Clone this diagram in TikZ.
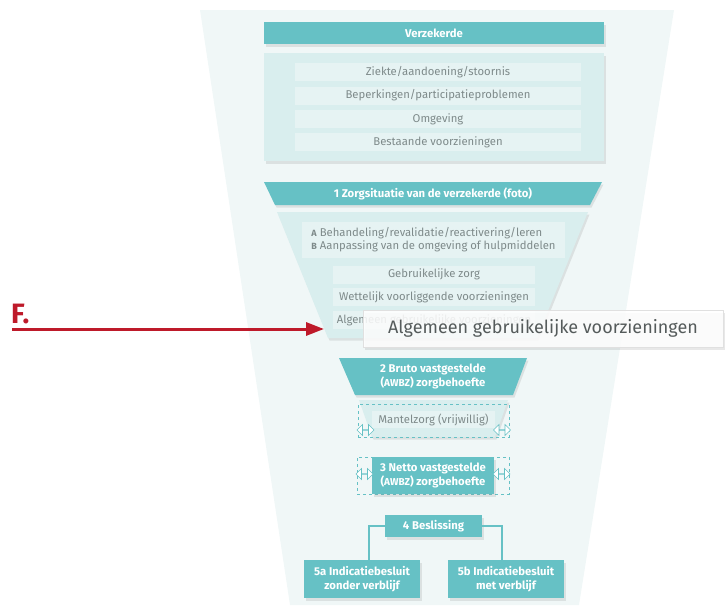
\documentclass[tikz,border=0pt]{standalone}
\usepackage{fontspec}
\setmainfont{Fira Sans}
\usetikzlibrary{shapes,arrows.meta,positioning,shadows}
\usepackage{xcolor}

\definecolor{tealc}{HTML}{66C1C5}
\definecolor{panelc}{HTML}{D9EEEE}
\definecolor{rowc}{HTML}{E6F3F3}
\definecolor{bgc}{HTML}{F0F7F7}
\definecolor{rowtext}{HTML}{7E8A8A}
\definecolor{redc}{HTML}{BE1A2A}
\definecolor{calltext}{HTML}{555B5B}

\begin{document}
\begin{tikzpicture}[x=1pt, y=-1pt,
    every node/.style={font=\fontsize{11.3}{13}\selectfont, inner sep=0pt},
    softshadow/.style={drop shadow={opacity=0.18, shadow xshift=1.5pt, shadow yshift=-2.5pt}},
    hdr/.style={rectangle, fill=tealc, text=white, align=center, font=\fontsize{11.3}{14}\selectfont\bfseries},
    row/.style={rectangle, fill=rowc, text=rowtext, minimum width=286pt, minimum height=18pt},
    subrow/.style={row, minimum width=202pt},
    lbl/.style={text=white, align=center, font=\fontsize{11.3}{14}\selectfont\bfseries},
    dashbox/.style={rectangle, draw=tealc, dashed, line width=0.5pt},
    dblarrow/.style={double arrow, draw=tealc, fill=white, line width=0.6pt, minimum width=11pt, minimum height=17pt, double arrow head extend=3.5pt},
    conn/.style={draw=tealc, line width=2pt},
    redarrow/.style={draw=redc, line width=3pt, -{Triangle[length=18pt, width=13pt]}}
]
\useasboundingbox (0,0) rectangle (725,605);

% background funnel
\fill[bgc] (200,10) -- (674,10) -- (579,605) -- (290,605) -- cycle;

% Verzekerde
\node[hdr, minimum width=340pt, minimum height=22pt, softshadow] (verz) at (434,33) {Verzekerde};
\node[rectangle, fill=panelc, minimum width=340pt, minimum height=108pt, softshadow] (panel) at (434,107) {};
\node[row] (r1) at (438,72) {Ziekte/aandoening/stoornis};
\node[row] (r2) at (438,95.5) {Beperkingen/participatieproblemen};
\node[row] (r3) at (438,119) {Omgeving};
\node[row] (r4) at (438,142) {Bestaande voorzieningen};

% 1 Zorgsituatie
\fill[tealc, softshadow] (264,182) -- (602,182) -- (590,205) -- (275,205) -- cycle;
\node[lbl] (zorg) at (433,193.5) {1 Zorgsituatie van de verzekerde (foto)};
\fill[panelc, softshadow] (277,212) -- (588,212) -- (537,338) -- (328,338) -- cycle;
\node[row, minimum width=263pt, minimum height=36pt, align=left] (ab) at (433.5,240)
    {{\bfseries\fontsize{9}{11}\selectfont A} Behandeling/revalidatie/reactivering/leren\\
     {\bfseries\fontsize{9}{11}\selectfont B} Aanpassing van de omgeving of hulpmiddelen};
\node[subrow] (gz) at (434,274.5) {Gebruikelijke zorg};
\node[subrow] (wv) at (434,297) {Wettelijk voorliggende voorzieningen};
\node[subrow] (agv) at (434,320) {Algemeen gebruikelijke voorzieningen};

% callout
\node[rectangle, fill=white, fill opacity=0.85, text opacity=1, draw=black!12, line width=0.4pt,
      minimum width=360pt, minimum height=37pt, text=calltext, font=\fontsize{18}{22}\selectfont,
      softshadow] (callout) at (543,328.5) {Algemeen gebruikelijke voorzieningen};

% F.
\node[anchor=base west, text=redc, font=\fontsize{28}{30}\selectfont\bfseries] (flabel) at (11,323) {F.};
\coordinate (fstart) at (12,329);
\coordinate (fend) at (324,329);
\draw[redarrow] (fstart) -- (fend);

% 2 Bruto
\fill[tealc, softshadow] (339,358) -- (527,358) -- (513,395) -- (355,395) -- cycle;
\node[lbl] (bruto) at (433,376.5) {2 Bruto vastgestelde\\({\fontsize{10}{14}\selectfont AWBZ}) zorgbehoefte};

% Mantelzorg
\fill[panelc, softshadow] (359,400) -- (508,400) -- (495,437) -- (372,437) -- cycle;
\node[dashbox, minimum width=151pt, minimum height=33pt] (mzframe) at (433.5,420.5) {};
\node[row, minimum width=123pt, minimum height=17pt] (mz) at (433.5,419.5) {Mantelzorg (vrijwillig)};
\node[dblarrow] (mzl) at (365.5,430) {};
\node[dblarrow] (mzr) at (502,430) {};

% 3 Netto
\node[dashbox, minimum width=152pt, minimum height=37pt] (nfr) at (433,475.5) {};
\node[hdr, minimum width=122pt, minimum height=37pt, softshadow] (netto) at (433,475.5)
    {3 Netto vastgestelde\\({\fontsize{10}{14}\selectfont AWBZ}) zorgbehoefte};
\node[dblarrow] (nl) at (364.5,474) {};
\node[dblarrow] (nr) at (501.5,474) {};

% 4 Beslissing en 5a/5b
\node[hdr, minimum width=97pt, minimum height=22pt, softshadow] (besl) at (433.5,526) {4 Beslissing};
\node[hdr, minimum width=116pt, minimum height=38pt, softshadow] (a5) at (362,579) {5a Indicatiebesluit\\zonder verblijf};
\node[hdr, minimum width=116pt, minimum height=38pt, softshadow] (b5) at (506,579) {5b Indicatiebesluit\\met verblijf};
\draw[conn] (besl.west) -| ([xshift=7pt]a5.north);
\draw[conn] (besl.east) -| ([xshift=-4pt]b5.north);

\end{tikzpicture}
\end{document}
